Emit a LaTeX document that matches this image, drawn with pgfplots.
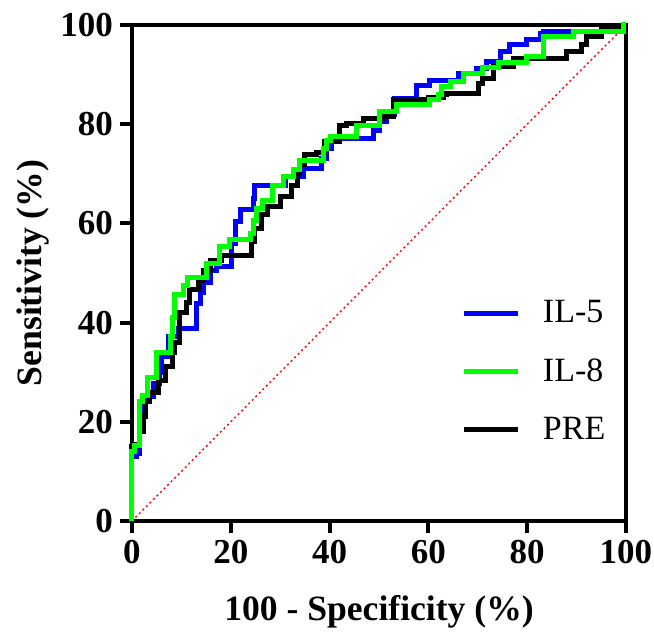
\documentclass[border=0pt]{standalone}
\usepackage{fontspec}
\setmainfont{Liberation Serif}
\usepackage{pgfplots}
\pgfplotsset{compat=1.18}

\definecolor{ilblue}{RGB}{0,0,255}
\definecolor{ilgreen}{RGB}{0,255,0}

\begin{document}
\begin{tikzpicture}
\begin{axis}[
    scale only axis,
    width=247pt, height=248pt,
    xmin=0, xmax=100, ymin=0, ymax=100,
    xtick={0,20,...,100}, ytick={0,20,...,100},
    tick pos=left, tick align=outside,
    major tick length=6pt,
    every tick/.style={line width=2pt, black},
    axis line style={line width=2pt},
    /pgf/number format/assume math mode=true,
    ticklabel style={font=\fontsize{17.5}{20}\selectfont\bfseries},
    xlabel={100 - Specificity (\%)},
    ylabel={Sensitivity (\%)},
    label style={font=\fontsize{17.8}{21}\selectfont\bfseries},
    xlabel style={at={(axis description cs:0.5,-0.183)}, anchor=center},
    ylabel style={at={(axis description cs:-0.2,0.5)}, anchor=center},
    clip=false,
    legend style={at={(axis cs:65.5,46.1)}, anchor=north west, draw=none, fill=none,
        font=\fontsize{17}{20}\selectfont, row sep=12.3pt},
    legend cell align=left,
    legend image code/.code={\draw[#1, line width=2.5pt] (0pt,0pt) -- (27pt,0pt);},
]
\addlegendimage{ilblue}
\addlegendentry{\hspace{9pt}IL-5}
\addlegendimage{ilgreen}
\addlegendentry{\hspace{9pt}IL-8}
\addlegendimage{black}
\addlegendentry{\hspace{9pt}PRE}

% page extent around the axis
\coordinate (pagebl) at (rel axis cs:-0.2672,-0.2298);
\coordinate (pagetr) at (rel axis cs:1.0567,1.0504);

% reference line
\addplot[red, line width=0.7pt, dash pattern=on 1pt off 1.5pt, forget plot]
coordinates {(0,0) (100,100)};

% IL-5
\addplot[ilblue, line width=2.5pt, const plot, forget plot] coordinates {
(0,0) (0,13) (1,13.7) (1.5,18) (2,22) (2.6,25) (4.3,27.8) (5.5,30) (6,33.1)
(7.3,37.2) (9.4,38.8) (13.1,43.9) (13.8,46) (14.4,48) (15.8,50.6) (17.1,51.3)
(20.2,56) (20.9,60.3) (21.9,62.7) (24.6,65) (24.9,67.7) (31,69.4) (34.7,71.1)
(38.4,73) (39.4,75.1) (40.4,77.2) (48.8,78.8) (50.2,80.5) (51.5,82) (53.2,85.2)
(57.6,87.9) (60.3,88.9) (66,90.3) (69.8,91.3) (71.8,92.6) (74.5,94.6) (76.5,96)
(79.9,97) (82.6,98.3) (83.2,98.7) (99.5,100) (100,100)
};

% PRE
\addplot[black, line width=2.5pt, const plot, forget plot] coordinates {
(0,0) (0,15) (0.6,15.5) (1.5,18) (2.3,21) (2.8,24) (3.5,26) (5.3,28.4) (6.7,31.1)
(8.2,34) (8.7,35.9) (9.7,42) (11.1,44) (11.7,46.6) (13.5,48.5) (14.5,50.5)
(15.8,52.6) (18.2,53.6) (24.2,56.3) (24.9,59) (26.3,61.7) (27.5,63.5) (30,65.5)
(32.3,67.7) (33.6,70) (34,71.8) (35,73.8) (37.4,74.2) (39,76.5) (42.1,79.8)
(43.5,80.2) (46.8,81.2) (50.8,81.5) (52.9,84.9) (60,85.3) (63,85.9) (63.7,86.2)
(70.1,88.2) (71,89.2) (73.1,91.6) (77.2,93.3) (88,94.6) (91,96) (92,97.6)
(95,99.7) (99.5,100) (100,100)
};

% IL-8
\addplot[ilgreen, line width=2.5pt, const plot, forget plot] coordinates {
(0,0) (0,14) (0.6,15.3) (1.6,24) (2.2,25.2) (3.2,29) (5,34) (7.7,37.2) (8.2,41)
(8.7,45.6) (10.5,47.5) (11.3,49) (15.1,52) (17.8,55.4) (19.8,56.7) (23.9,58)
(24.6,60.5) (25.2,63) (26.5,64.7) (28.5,67.7) (30.6,69.4) (32.6,70.8) (34,72.7)
(38.7,75) (39.4,76.8) (40.1,77.5) (45.5,79.8) (50.2,82.5) (53.6,83.9) (60.3,84.9)
(62,86) (62.7,87.5) (64.4,88.6) (67.1,90.3) (71,91.5) (74.2,92.4) (79.9,93.6)
(83.3,97.6) (89.3,98.7) (99.5,100) (100,100)
};
\end{axis}
\pgfresetboundingbox
\path (pagebl) rectangle (pagetr);
\end{tikzpicture}
\end{document}
